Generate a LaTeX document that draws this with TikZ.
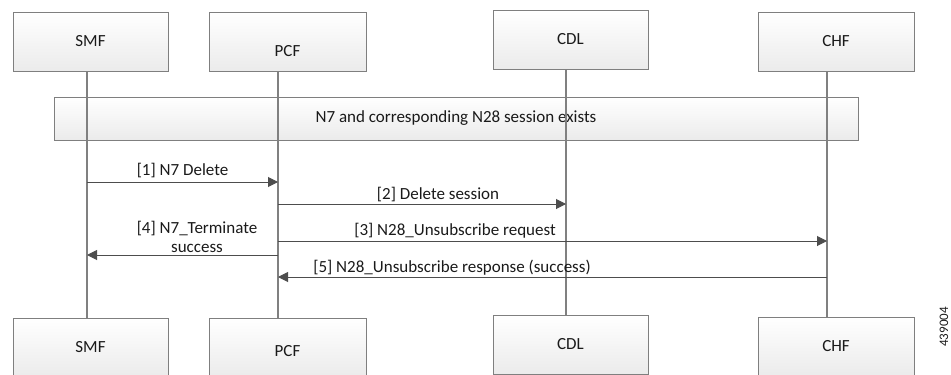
\documentclass[tikz,border=0pt]{standalone}
\usepackage{fontspec}
\setmainfont{Carlito}
\usepackage{xcolor}
\usepackage{tikz}
\usetikzlibrary{arrows.meta, positioning, calc}

\definecolor{boxgray}{HTML}{7F7F7F}
\definecolor{boxfill}{HTML}{EBEBEB}
\definecolor{linegray}{HTML}{808080}
\definecolor{msggray}{HTML}{4D4D4D}
\definecolor{txtgray}{HTML}{1A1A1A}

\begin{document}
\begin{tikzpicture}[
    x=1pt, y=-1pt,
    every node/.style={text=txtgray},
    entity/.style={draw=boxgray, line width=1pt, rectangle, minimum width=155pt, minimum height=59pt, top color=white, bottom color=boxfill, font=\fontsize{17}{20}\selectfont},
    banner/.style={draw=boxgray, line width=1pt, rectangle, minimum width=804pt, minimum height=43pt, top color=white, bottom color=boxfill, font=\fontsize{17}{20}\selectfont},
    lifeline/.style={draw=linegray, line width=1.3pt},
    arrow/.style={-{Triangle[length=10pt, width=10pt]}, draw=msggray, line width=1pt},
    msg/.style={font=\fontsize{17}{19}\selectfont, inner sep=1pt},
]
\useasboundingbox (0,0) rectangle (951,375);
\clip (0,0) rectangle (951,375);

% Entities (top)
\node[entity] (smf) at (90.5, 41.5) {SMF};
\node[entity, minimum width=157pt, text height=30pt] (pcf) at (287.5, 41.5) {PCF};
\node[entity] (cdl) at (570.5, 39.5) {CDL};
\node[entity, minimum width=156pt] (chf) at (836, 41.5) {CHF};

% Entities (bottom)
\node[entity] (smfb) at (90.5, 347.5) {SMF};
\node[entity, minimum width=157pt, text height=18pt] (pcfb) at (287.5, 347.5) {PCF};
\node[entity] (cdlb) at (570.5, 344.5) {CDL};
\node[entity, minimum width=156pt] (chfb) at (836, 346.5) {CHF};

% Precondition
\node[banner] (exists) at (456, 118.5) {N7 and corresponding N28 session exists};

% Lifelines
\coordinate (smfl) at (87, 0);
\coordinate (pcfl) at (278, 0);
\coordinate (cdll) at (566, 0);
\coordinate (chfl) at (827, 0);
\draw[lifeline] (smf.south -| smfl) -- (smfb.north -| smfl);
\draw[lifeline] (pcf.south -| pcfl) -- (pcfb.north -| pcfl);
\draw[lifeline] (cdl.south -| cdll) -- (cdlb.north -| cdll);
\draw[lifeline] (chf.south -| chfl) -- (chfb.north -| chfl);

% Messages
\draw[arrow] (smfl |- 0,182) -- node[msg, above=3pt] {[1] N7 Delete} (pcfl |- 0,182);
\draw[arrow] (pcfl |- 0,204) -- (cdll |- 0,204);
\node[msg] (m2) at (438, 195) {[2] Delete session};
\draw[arrow] (pcfl |- 0,241) -- (chfl |- 0,241);
\node[msg] (m3) at (455, 231) {[3] N28\_Unsubscribe request};
\draw[arrow] (pcfl |- 0,255) -- (smfl |- 0,255);
\node[msg, align=center] (m4) at (197, 237) {[4] N7\_Terminate\\success};
\draw[arrow] (chfl |- 0,277) -- (pcfl |- 0,277);
\node[msg] (m5) at (452, 268) {[5] N28\_Unsubscribe response (success)};

% Figure number
\node[font=\fontsize{13}{14}\selectfont, rotate=90] (fignum) at (944, 327) {439004};

\end{tikzpicture}
\end{document}
